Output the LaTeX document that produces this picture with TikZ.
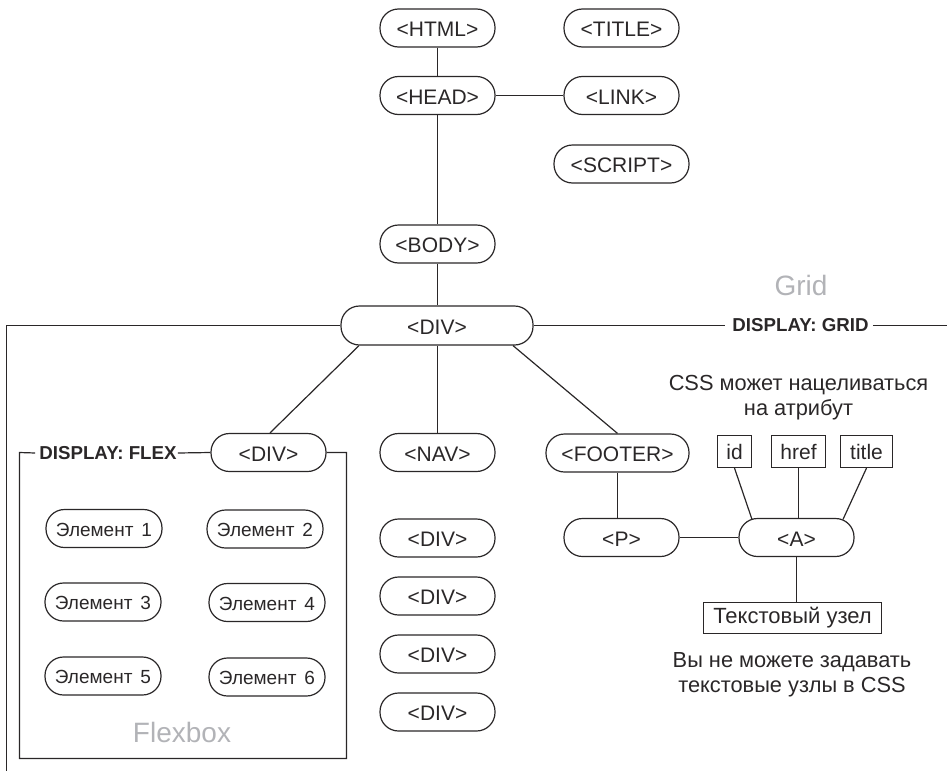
\documentclass[tikz,border=0pt]{standalone}
\usepackage{fontspec}
\setmainfont{Liberation Sans}
\usetikzlibrary{calc}
\definecolor{ink}{HTML}{2A2728}
\definecolor{soft}{HTML}{B2B3B7}
\tikzset{
  wire/.style={draw=ink,line width=1.2pt},
  tagnode/.style={draw=ink,line width=1.2pt,rectangle,rounded corners=18.5pt,minimum width=115pt,minimum height=38pt,inner sep=0pt,text=ink,text height=17pt,text depth=0pt,font=\fontsize{21}{25}\selectfont},
  itemnode/.style={tagnode,minimum width=116pt,text height=15pt,font=\fontsize{19}{23}\selectfont},
  attrnode/.style={draw=ink,line width=1.2pt,rectangle,minimum height=32pt,inner sep=0pt,text=ink,font=\fontsize{21}{25}\selectfont},
  boldlabel/.style={inner xsep=4pt,inner ysep=0pt,text=ink,font=\fontsize{18.7}{22}\selectfont\bfseries},
  softlabel/.style={inner sep=0pt,text=soft,font=\fontsize{28}{32}\selectfont},
  note/.style={inner sep=0pt,align=center,text=ink,font=\fontsize{21.8}{25}\selectfont}
}
\begin{document}
\begin{tikzpicture}[x=1pt,y=-1pt]
\useasboundingbox (0,0) rectangle (947,771);
% top column
\node[tagnode] (html) at (437.5,28) {<HTML>};
\node[tagnode] (title) at (621.5,28) {<TITLE>};
\node[tagnode] (head) at (437.5,95.5) {<HEAD>};
\node[tagnode] (link) at (621.5,95.5) {<LINK>};
\node[tagnode,minimum width=135pt] (script) at (621.5,164) {<SCRIPT>};
\node[tagnode] (body) at (437.5,244) {<BODY>};
\node[tagnode,minimum width=192pt,minimum height=39pt] (main) at (437,325.5) {<DIV>};
% second row
\node[tagnode] (flexdiv) at (268.5,452.5) {<DIV>};
\node[tagnode] (nav) at (437.5,452.5) {<NAV>};
\node[tagnode,minimum width=143pt] (footer) at (617.5,453) {<FOOTER>};
\node[tagnode] (p) at (621.5,537.5) {<P>};
\node[tagnode] (a) at (796.5,537.5) {<A>};
% nav children
\node[tagnode] (d1) at (437.5,538) {<DIV>};
\node[tagnode] (d2) at (437.5,596) {<DIV>};
\node[tagnode] (d3) at (437.5,654) {<DIV>};
\node[tagnode] (d4) at (437.5,712) {<DIV>};
% flex items
\node[itemnode] (e1) at (104,528.5) {Элемент\hspace{8pt}1};
\node[itemnode] (e2) at (265,529) {Элемент\hspace{8pt}2};
\node[itemnode] (e3) at (103,602) {Элемент\hspace{8pt}3};
\node[itemnode] (e4) at (267,602.5) {Элемент\hspace{8pt}4};
\node[itemnode] (e5) at (103,676) {Элемент\hspace{8pt}5};
\node[itemnode] (e6) at (267,677) {Элемент\hspace{8pt}6};
% attributes
\node[attrnode,minimum width=34pt] (id) at (734.5,451.5) {id};
\node[attrnode,minimum width=54pt] (href) at (798.5,451.5) {href};
\node[attrnode,minimum width=52pt] (titleattr) at (866.5,451.5) {title};
\node[attrnode,minimum width=178pt,minimum height=31pt,font=\fontsize{22}{25}\selectfont] (textnode) at (792.5,618) {Текстовый узел};
% labels
\node[boldlabel] (gridlabel) at (800.5,325.5) {DISPLAY: GRID};
\node[boldlabel] (flexlabel) at (108,453) {DISPLAY: FLEX};
\node[softlabel] (gridname) at (801,285) {Grid};
\node[softlabel] (flexname) at (182,732) {Flexbox};
\node[note] (cssnote) at (798.5,397.5) {CSS может нацеливаться\\на атрибут};
\node[note] (textnote) at (792,675) {Вы не можете задавать\\текстовые узлы в CSS};
% free ends
\coordinate (leftturn) at (6.5,325.5);
\coordinate (leftend) at (6.5,771);
\coordinate (rightend) at (947,325.5);
\coordinate (boxtl) at (19.5,452.5);
\coordinate (boxbl) at (19.5,758.5);
\coordinate (boxbr) at (346.5,758.5);
\coordinate (boxtr) at (346.5,452.5);
% connectors
\draw[wire] (html) -- (head);
\draw[wire] (head) -- (link);
\draw[wire] (head) -- (body);
\draw[wire] (body.south) -- (body.south |- main.north);
\draw[wire] (main.west) -- (leftturn) -- (leftend);
\draw[wire] (main.east) -- ($(gridlabel.west)+(-3,0)$);
\draw[wire] (gridlabel.east) -- (rightend);
\draw[wire] ($(main.south)+(-78,0)$) -- ($(flexdiv.north)+(1.5,0)$);
\draw[wire] (nav.north |- main.south) -- (nav.north);
\draw[wire] ($(main.south)+(76,0)$) -- (footer.north);
\draw[wire] ($(flexlabel.east)+(-3,0)$) -- (flexdiv.west);
\draw[wire] (flexlabel.west) -- (boxtl) -- (boxbl) -- (boxbr) -- (boxtr) -- (flexdiv.east);
\draw[wire] (footer.south) -- (footer.south |- p.north);
\draw[wire] (p) -- (a);
\draw[wire] (id.south) -- ($(a.north)+(-44.5,1.5)$);
\draw[wire] (href.south) -- (href.south |- a.north);
\draw[wire] (titleattr.south) -- ($(a.north)+(46.5,1.5)$);
\draw[wire] (a.south) -- (a.south |- textnode.north);
\end{tikzpicture}
\end{document}
